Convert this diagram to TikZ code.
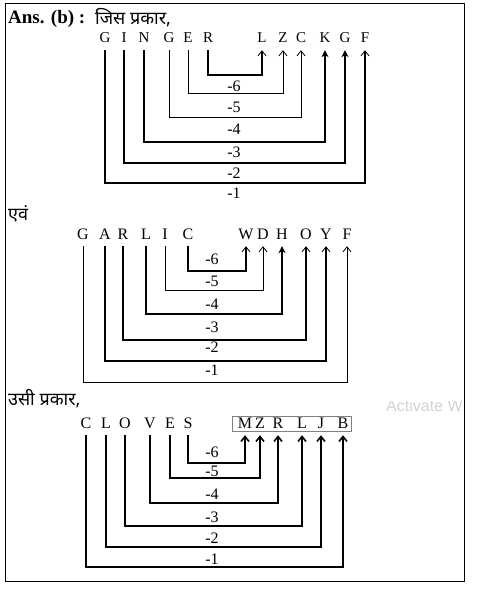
\documentclass[tikz,border=0pt]{standalone}
\usepackage{fontspec}
\setmainfont{Liberation Serif}
\newfontfamily\hindi[Script=Devanagari]{Noto Sans}
\newfontfamily\wmfont{Liberation Sans}
\usetikzlibrary{arrows.meta}

\tikzset{
    ltr/.style={anchor=base, inner sep=0pt, text depth=7pt, font=\fontsize{16}{16}\selectfont},
    lbl/.style={inner sep=0pt, font=\fontsize{16}{16}\selectfont},
    head/.style={anchor=base west, inner sep=0pt, font=\hindi\fontsize{18}{18}\selectfont},
    thn/.style={line width=0.8pt, -{Straight Barb[length=5pt,width=8pt,line width=0.8pt]}},
    thk/.style={line width=1.6pt, -{Straight Barb[length=5pt,width=8pt,line width=0.8pt]}},
    hvy/.style={line width=1.6pt, -{Stealth[length=7pt,width=7pt]}},
    bld/.style={line width=1.6pt, -{Straight Barb[length=5pt,width=8pt,line width=1.6pt]}},
}

\begin{document}
\begin{tikzpicture}[x=1pt, y=-1pt]
    \useasboundingbox (0,0) rectangle (485,604);
    \draw[line width=1pt] (5,4) rectangle (464,581);

    % GINGER -> LZCKGF
    \node[anchor=base west, inner sep=0pt, font=\bfseries\fontsize{19}{19}\selectfont] (ans) at (8,24) {Ans. (b) :};
    \node[head] (jis) at (95,25) {जिस प्रकार,};
    \foreach \c/\x [count=\i] in {G/105,I/124,N/144,G/169,E/188,R/208,L/262,Z/283,C/301,K/325,G/345,F/365}
        \node[ltr, font=\fontsize{15}{15}\selectfont] (a\i) at (\x,43) {\c};
    \foreach \i/\d/\s in {6/25/thk,5/43/thn,4/67/thn,3/92/hvy,2/113/hvy,1/133/thk} {
        \pgfmathtruncatemacro\j{13-\i}
        \draw[\s] (a\i.south) -- ++(0,\d) -| (a\j.south);
    }
    \foreach \t/\y [count=\k] in {-6/86,-5/107,-4/129,-3/152,-2/173,-1/193}
        \node[lbl] (la\k) at (234,\y) {\t};

    % GARLIC -> WDHOYF
    \node[head] (evam) at (8,220) {एवं};
    \foreach \c/\x [count=\i] in {G/83,A/105,R/123,L/146,I/165,C/188,W/246,D/263,H/282,O/306,Y/326,F/347}
        \node[ltr] (b\i) at (\x,239) {\c};
    \foreach \i/\d/\s in {6/25/thk,5/44/thn,4/68/hvy,3/94/thk,2/115/thk,1/136/thn} {
        \pgfmathtruncatemacro\j{13-\i}
        \draw[\s] (b\i.south) -- ++(0,\d) -| (b\j.south);
    }
    \foreach \t/\y [count=\k] in {-6/259,-5/281,-4/304,-3/327,-2/347,-1/370}
        \node[lbl] (lb\k) at (212,\y) {\t};

    % CLOVES -> MZRLJB
    \node[head] (usi) at (8,405) {उसी प्रकार,};
    \begin{scope}
        \clip (5,401) rectangle (464,581);
        \node[anchor=base west, inner sep=0pt, text=gray!35, font=\wmfont\fontsize{16}{16}\selectfont] (wm) at (386,411) {Activate W};
    \end{scope}
    \foreach \c/\x [count=\i] in {C/86,L/106,O/125,V/150,E/170,S/188,M/245,Z/260,R/278,L/302,J/321,B/343}
        \node[ltr] (c\i) at (\x,428) {\c};
    \draw[gray, line width=0.6pt] (232,416) rectangle (351,431);
    \foreach \i/\d in {6/28,5/43,4/68,3/91,2/112,1/132} {
        \pgfmathtruncatemacro\j{13-\i}
        \draw[bld] (c\i.south) -- ++(0,\d) -| (c\j.south);
    }
    \foreach \t/\y [count=\k] in {-6/452,-5/471,-4/494,-3/517,-2/538,-1/559}
        \node[lbl] (lc\k) at (212,\y) {\t};
\end{tikzpicture}
\end{document}
